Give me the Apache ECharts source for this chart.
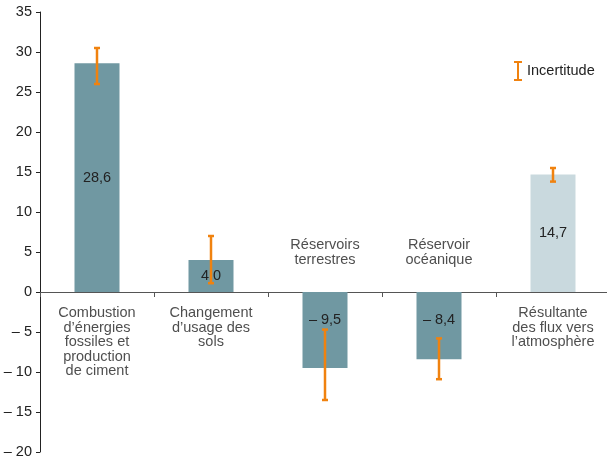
<!DOCTYPE html>
<html>
<head>
    <meta charset="utf-8">
    <title>Flux de CO2</title>
    <script src="https://cdn.jsdelivr.net/npm/echarts@6/dist/echarts.min.js"></script>
    <style>
        body { margin: 0; background: #fff; }
        #main { width: 607px; height: 457px; }
    </style>
</head>
<body>
<div id="main"></div>
<script>
    // donnees
    var categories = [
        'Combustion\nd’énergies\nfossiles et\nproduction\nde ciment',
        'Changement\nd’usage des\nsols',
        'Réservoirs\nterrestres',
        'Réservoir\nocéanique',
        'Résultante\ndes flux vers\nl’atmosphère'
    ];
    var values = [28.6, 4.0, -9.5, -8.4, 14.7];
    var errLow = [26.0, 1.1, -13.5, -10.9, 13.8];
    var errHigh = [30.5, 7.0, -4.7, -5.8, 15.5];
    var yTicks = [-20, -15, -10, -5, 0, 5, 10, 15, 20, 25, 30, 35];

    var barColor = '#7098a2';
    var lastColor = '#c9d9de';
    var orange = '#f0820f';
    var textColor = '#222';
    var font = 'Liberation Sans';

    function fmt(v) {
        var s = Math.abs(v).toFixed(1).replace('.', ',');
        return v < 0 ? '– ' + s : s;
    }

    var barData = values.map(function (v, i) {
        var item = {
            value: v,
            itemStyle: { color: i === values.length - 1 ? lastColor : barColor }
        };
        if (v < 0) {
            item.label = { position: 'insideTop', distance: 20 };
        }
        return item;
    });

    var errData = values.map(function (v, i) {
        return [i, errLow[i], errHigh[i]];
    });

    // noms des categories, sous l'axe (positifs) ou au-dessus (negatifs)
    var nameData = values.map(function (v, i) {
        return {
            value: [i, 0],
            label: v < 0 ? { position: 'top', distance: 25 } : { position: 'bottom', distance: 14 }
        };
    });

    var myChart = echarts.init(document.getElementById('main'));

    var option = {
        animation: false,
        textStyle: { fontFamily: font },
        grid: { left: 40, top: 12, width: 570, height: 440, containLabel: false, outerBoundsMode: 'none' },
        legend: {
            data: ['Incertitude'],
            left: 509,
            top: 56,
            itemWidth: 8,
            itemHeight: 20,
            itemGap: 6,
            icon: 'path://M0,0 L8,0 L8,2 L5,2 L5,18 L8,18 L8,20 L0,20 L0,18 L3,18 L3,2 L0,2 Z',
            textStyle: { color: textColor, fontSize: 14.5, fontFamily: font }
        },
        xAxis: {
            type: 'category',
            data: categories,
            axisLine: { onZero: true, lineStyle: { color: '#555', width: 1 } },
            axisTick: { show: true, length: 5, lineStyle: { color: '#555' } },
            axisLabel: { show: false },
            splitLine: { show: false }
        },
        yAxis: {
            type: 'value',
            min: yTicks[0],
            max: yTicks[yTicks.length - 1],
            interval: 5,
            axisLine: { show: true, lineStyle: { color: '#222' } },
            axisTick: { show: true, length: 4, lineStyle: { color: '#222' } },
            axisLabel: {
                margin: 8,
                color: textColor,
                fontSize: 14.5,
                formatter: function (v) { return v < 0 ? '– ' + Math.abs(v) : String(v); }
            },
            splitLine: { show: false }
        },
        series: [
            {
                name: 'Flux',
                type: 'bar',
                barWidth: 45,
                data: barData,
                silent: true,
                label: {
                    show: true,
                    position: 'inside',
                    color: textColor,
                    fontSize: 14.5,
                    formatter: function (p) { return fmt(p.value); }
                }
            },
            {
                name: 'Incertitude',
                type: 'custom',
                itemStyle: { color: orange },
                data: errData,
                silent: true,
                z: 5,
                renderItem: function (params, api) {
                    var x = api.value(0);
                    var lo = api.coord([x, api.value(1)]);
                    var hi = api.coord([x, api.value(2)]);
                    var cap = 3;
                    var st = { stroke: orange, lineWidth: 2.5 };
                    return {
                        type: 'group',
                        children: [
                            { type: 'line', shape: { x1: lo[0], y1: lo[1], x2: hi[0], y2: hi[1] }, style: st },
                            { type: 'line', shape: { x1: lo[0] - cap, y1: lo[1], x2: lo[0] + cap, y2: lo[1] }, style: st },
                            { type: 'line', shape: { x1: hi[0] - cap, y1: hi[1], x2: hi[0] + cap, y2: hi[1] }, style: st }
                        ]
                    };
                }
            },
            {
                name: 'noms',
                type: 'scatter',
                symbolSize: 0,
                data: nameData,
                silent: true,
                label: {
                    show: true,
                    color: textColor,
                    fontSize: 14.5,
                    lineHeight: 14.5,
                    align: 'center',
                    formatter: function (p) { return categories[p.dataIndex]; }
                }
            }
        ]
    };

    myChart.setOption(option);
</script>
</body>
</html>
